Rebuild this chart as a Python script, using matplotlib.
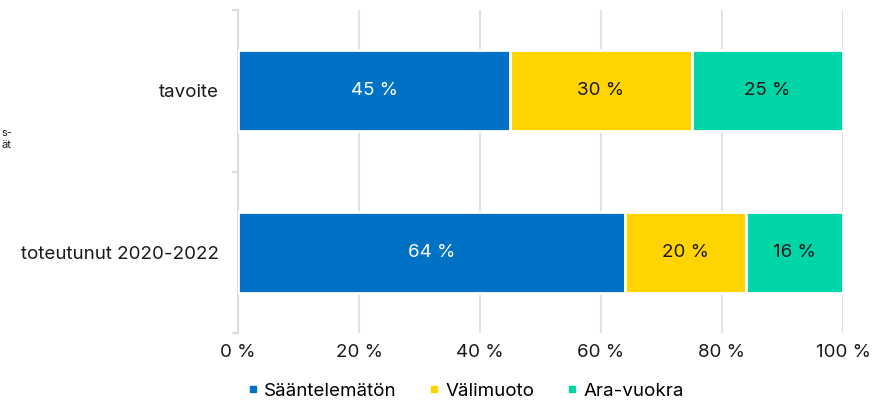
import matplotlib
matplotlib.use("Agg")
import matplotlib.pyplot as plt
from matplotlib.lines import Line2D
import numpy as np

plt.rcParams['font.family'] = ['Inter', 'DejaVu Sans']

categories = ["tavoite", "toteutunut 2020-2022"]
series_names = ["Sääntelemätön", "Välimuoto", "Ara-vuokra"]
saantelematon = [45, 64]
valimuoto = [30, 20]
ara_vuokra = [25, 16]
x_ticks = [0, 20, 40, 60, 80, 100]
x_tick_labels = ["0 %", "20 %", "40 %", "60 %", "80 %", "100 %"]

colors = ["#0072C6", "#FFD400", "#00D5A7"]
text_colors = ["white", "#1a1a1a", "#1a1a1a"]

fig = plt.figure(figsize=(8.93, 4.01), dpi=100)
ax = fig.add_axes([238/893, 1-333/401, (843-238)/893, (333-10)/401])

y = np.arange(len(categories))
series = [saantelematon, valimuoto, ara_vuokra]
left = np.zeros(len(categories))
for vals, name, col, tcol in zip(series, series_names, colors, text_colors):
    vals = np.array(vals, dtype=float)
    ax.barh(y, vals, left=left, height=0.5, color=col, edgecolor="white",
            linewidth=2, label=name, zorder=3)
    for yi, v, l in zip(y, vals, left):
        ax.text(l + v/2, yi, f"{int(v)} %", ha="center", va="center",
                color=tcol, fontsize=13.5, zorder=4)
    left = left + vals

ax.set_xlim(0, 100)
ax.set_ylim(len(categories) - 0.5, -0.5)
ax.set_xticks(x_ticks)
ax.set_xticklabels(x_tick_labels, fontsize=13.5, color="#1a1a1a")
ax.set_yticks(y)
ax.set_yticklabels(categories, fontsize=13.5, color="#1a1a1a")
ax.set_yticks(np.arange(-0.5, len(categories), 1.0), minor=True)
ax.tick_params(axis="y", which="major", length=0, pad=14)
ax.tick_params(axis="y", which="minor", length=4, color="#DDDDDD", width=1.5)
ax.tick_params(axis="x", length=0, pad=8)
ax.grid(axis="x", color="#E2E2E2", linewidth=1.5, zorder=0)
for s in ["top", "right", "bottom"]:
    ax.spines[s].set_visible(False)
ax.spines["left"].set_color("#DDDDDD")
ax.spines["left"].set_linewidth(1.5)

handles = [Line2D([0], [0], marker="s", linestyle="none", markersize=5,
                  markerfacecolor=c, markeredgecolor=c) for c in colors]
fig.legend(handles, series_names, loc="center", bbox_to_anchor=(0.52, 0.025),
           ncol=3, frameon=False, fontsize=13.5, handletextpad=0.2,
           columnspacing=1.6, handlelength=0.8)

fig.text(1/893, 1-139/401, "s-\nät", ha="left", va="center", fontsize=8,
         color="#1a1a1a", linespacing=1.25)

fig.savefig("out.png", dpi=100)
